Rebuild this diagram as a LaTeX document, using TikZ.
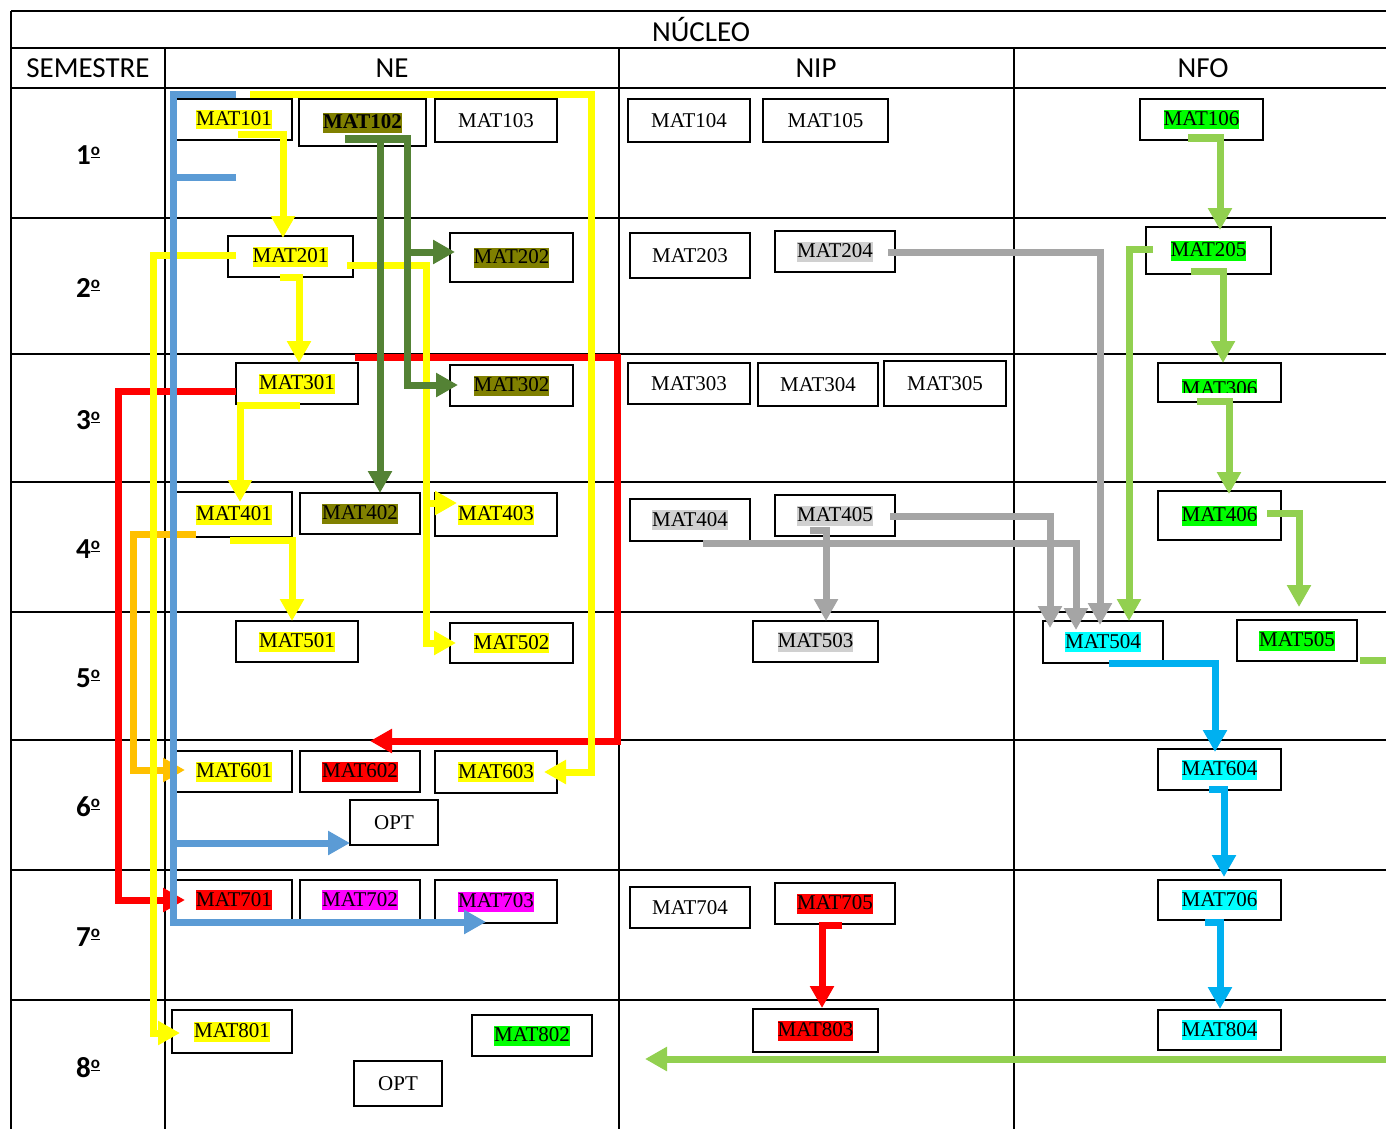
\documentclass[tikz,border=0pt]{standalone}
\usepackage{fontspec}
\setmainfont{Liberation Serif}
\newfontfamily\calib{Carlito}
\usetikzlibrary{arrows.meta}
\definecolor{cyel}{HTML}{FFFF00}
\definecolor{cblu}{HTML}{5B9BD5}
\definecolor{colv}{HTML}{548235}
\definecolor{hlolv}{HTML}{808000}
\definecolor{cred}{HTML}{FF0000}
\definecolor{corg}{HTML}{FFC000}
\definecolor{cgry}{HTML}{A5A5A5}
\definecolor{hlgry}{HTML}{D0D0D0}
\definecolor{clgr}{HTML}{92D050}
\definecolor{hlgrn}{HTML}{00FF00}
\definecolor{hlcya}{HTML}{00FFFF}
\definecolor{hlmag}{HTML}{FF00FF}
\definecolor{ccyb}{HTML}{00B0F0}
\newcommand{\hlt}[2]{{\setlength{\fboxsep}{0pt}\colorbox{#1}{\rule[-4pt]{0pt}{20pt}#2}}}
\newcommand{\ordm}{\raisebox{9pt}{\fontsize{17}{17}\selectfont\underline{o}}}
\begin{document}
\begin{tikzpicture}[x=1pt,y=-1pt,
  grid/.style={line width=2.6pt,black},
  box/.style={draw,line width=1.8pt,fill=white,inner sep=0pt,font=\fontsize{21}{25}\selectfont},
  txt/.style={inner sep=0pt,font=\fontsize{21}{25}\selectfont},
  hdr/.style={inner sep=0pt,font=\calib\fontsize{29}{33}\selectfont},
  sem/.style={inner sep=0pt,font=\calib\bfseries\fontsize{29}{33}\selectfont},
  conn/.style={line width=7pt,line join=miter},
  arr/.style={-{Triangle[width=23pt,length=22pt]}}]
\clip (0,0) rectangle (1386,1129);
\fill[white] (0,0) rectangle (1386,1129);
% grid
\draw[grid] (11,11) -- (1400,11);
\draw[grid] (11,48) -- (1400,48);
\foreach \yy in {88,218,354,482,612,740,870,1000} \draw[grid] (11,\yy) -- (1400,\yy);
\draw[grid] (11,11) -- (11,1140);
\foreach \xx in {165,619,1014} \draw[grid] (\xx,48) -- (\xx,1140);
% headers
\node[hdr] (hnuc) at (701,30) {NÚCLEO};
\node[hdr] (hsem) at (88,68) {SEMESTRE};
\node[hdr] (hne) at (392,68) {NE};
\node[hdr] (hnip) at (816,68) {NIP};
\node[hdr] (hnfo) at (1203,68) {NFO};
\node[sem] (s1) at (88,155) {1\ordm};
\node[sem] (s2) at (88,288) {2\ordm};
\node[sem] (s3) at (88,420) {3\ordm};
\node[sem] (s4) at (88,549) {4\ordm};
\node[sem] (s5) at (88,678) {5\ordm};
\node[sem] (s6) at (88,807) {6\ordm};
\node[sem] (s7) at (88,937) {7\ordm};
\node[sem] (s8) at (88,1068) {8\ordm};
% row 1
\node[box,minimum width=116pt,minimum height=41pt] (m101) at (234,119.5) {\hlt{cyel}{MAT101}};
\node[box,minimum width=127pt,minimum height=47pt] (m102) at (362.5,122.5) {\hlt{hlolv}{\bfseries MAT102}};
\node[box,minimum width=122pt,minimum height=43pt] (m103) at (496,120.5) {MAT103};
\node[box,minimum width=122pt,minimum height=43pt] (m104) at (689,120.5) {MAT104};
\node[box,minimum width=125pt,minimum height=43pt] (m105) at (825.5,120.5) {MAT105};
\node[box,minimum width=123pt,minimum height=41pt] (m106) at (1201.5,119.5) {\hlt{hlgrn}{MAT106}};
% row 2
\node[box,minimum width=125pt,minimum height=41pt] (m201) at (290.5,256.5) {\hlt{cyel}{MAT201}};
\node[box,minimum width=123pt,minimum height=49pt] (m202) at (511.5,257.5) {\hlt{hlolv}{MAT202}};
\node[box,minimum width=120pt,minimum height=45pt] (m203) at (690,255.5) {MAT203};
\node[box,minimum width=120pt,minimum height=41pt] (m204) at (835,251.5) {\hlt{hlgry}{MAT204}};
\node[box,minimum width=125pt,minimum height=47pt] (m205) at (1208.5,250.5) {\hlt{hlgrn}{MAT205}};
% row 3
\node[box,minimum width=122pt,minimum height=41pt] (m301) at (297,383.5) {\hlt{cyel}{MAT301}};
\node[box,minimum width=123pt,minimum height=41pt] (m302) at (511.5,385.5) {\hlt{hlolv}{MAT302}};
\node[box,minimum width=122pt,minimum height=41pt] (m303) at (689,383.5) {MAT303};
\node[box,minimum width=120pt,minimum height=43pt] (m304) at (818,384.5) {MAT304};
\node[box,minimum width=122pt,minimum height=45pt] (m305) at (945,383.5) {MAT305};
\node[box,minimum width=123pt,minimum height=39pt] (m306) at (1219.5,382.5) {};
\begin{scope}
\clip (1150,360) rectangle (1290,392);
\node[txt] (t306) at (1219.5,389) {\hlt{hlgrn}{MAT306}};
\end{scope}
% row 4
\node[box,minimum width=116pt,minimum height=45pt] (m401) at (234,514.5) {\hlt{cyel}{MAT401}};
\node[box,minimum width=120pt,minimum height=41pt] (m402) at (360,513.5) {\hlt{hlolv}{MAT402}};
\node[box,minimum width=122pt,minimum height=43pt] (m403) at (496,514.5) {\hlt{cyel}{MAT403}};
\node[box,minimum width=120pt,minimum height=42pt] (m404) at (690,520) {\hlt{hlgry}{MAT404}};
\node[box,minimum width=120pt,minimum height=41pt] (m405) at (835,515.5) {\hlt{hlgry}{MAT405}};
\node[box,minimum width=123pt,minimum height=49pt] (m406) at (1219.5,515.5) {\hlt{hlgrn}{MAT406}};
% row 5
\node[box,minimum width=122pt,minimum height=41pt] (m501) at (297,641.5) {\hlt{cyel}{MAT501}};
\node[box,minimum width=123pt,minimum height=40pt] (m502) at (511.5,643) {\hlt{cyel}{MAT502}};
\node[box,minimum width=125pt,minimum height=41pt] (m503) at (815.5,641.5) {\hlt{hlgry}{MAT503}};
\node[box,minimum width=120pt,minimum height=42pt] (m504) at (1103,642) {\hlt{hlcya}{MAT504}};
\node[box,minimum width=120pt,minimum height=41pt] (m505) at (1297,640.5) {\hlt{hlgrn}{MAT505}};
% row 6
\node[box,minimum width=116pt,minimum height=41pt] (m601) at (234,771.5) {\hlt{cyel}{MAT601}};
\node[box,minimum width=120pt,minimum height=41pt] (m602) at (360,771.5) {\hlt{cred}{MAT602}};
\node[box,minimum width=122pt,minimum height=42pt] (m603) at (496,772) {\hlt{cyel}{MAT603}};
\node[box,minimum width=88pt,minimum height=45pt] (opt6) at (394,822.5) {OPT};
\node[box,minimum width=123pt,minimum height=41pt] (m604) at (1219.5,769.5) {\hlt{hlcya}{MAT604}};
% row 7
\node[box,minimum width=116pt,minimum height=40pt] (m701) at (234,900) {\hlt{cred}{MAT701}};
\node[box,minimum width=120pt,minimum height=40pt] (m702) at (360,900) {\hlt{hlmag}{MAT702}};
\node[box,minimum width=122pt,minimum height=43pt] (m703) at (496,901.5) {\hlt{hlmag}{MAT703}};
\node[box,minimum width=120pt,minimum height=41pt] (m704) at (690,907.5) {MAT704};
\node[box,minimum width=120pt,minimum height=41pt] (m705) at (835,903.5) {\hlt{cred}{MAT705}};
\node[box,minimum width=123pt,minimum height=40pt] (m706) at (1219.5,900) {\hlt{hlcya}{MAT706}};
% row 8
\node[box,minimum width=120pt,minimum height=43pt] (m801) at (232,1031.5) {\hlt{cyel}{MAT801}};
\node[box,minimum width=120pt,minimum height=41pt] (m802) at (532,1035.5) {\hlt{hlgrn}{MAT802}};
\node[box,minimum width=88pt,minimum height=45pt] (opt8) at (398,1083.5) {OPT};
\node[box,minimum width=125pt,minimum height=43pt] (m803) at (815.5,1030.5) {\hlt{cred}{MAT803}};
\node[box,minimum width=123pt,minimum height=40pt] (m804) at (1219.5,1030) {\hlt{hlcya}{MAT804}};
% red
\draw[conn,cred,arr] (236,391) -- (118,391) -- (118,900) -- (185,900);
\draw[conn,cred,arr] (355,357) -- (617,357) -- (617,741) -- (370,741);
\draw[conn,cred,arr] (842,925) -- (822,925) -- (822,1008);
% orange
\draw[conn,corg,arr] (196,534) -- (133,534) -- (133,770) -- (185,770);
% yellow
\draw[conn,cyel,arr] (238,135) -- (283,135) -- (283,238);
\draw[conn,cyel,arr] (250,95) -- (591,95) -- (591,772) -- (544,772);
\draw[conn,cyel,arr] (236,255) -- (153,255) -- (153,1033) -- (180,1033);
\draw[conn,cyel,arr] (280,277) -- (299,277) -- (299,363);
\draw[conn,cyel,arr] (347,265) -- (426,265) -- (426,643) -- (456,643);
\draw[conn,cyel,arr] (426,503) -- (457,503);
\draw[conn,cyel,arr] (300,405) -- (240,405) -- (240,502);
\draw[conn,cyel,arr] (230,540) -- (292,540) -- (292,621);
% olive
\draw[conn,colv,arr] (345,139) -- (407,139) -- (407,385) -- (458,385);
\draw[conn,colv,arr] (407,252) -- (455,252);
\draw[conn,colv,arr] (380,139) -- (380,493);
% gray
\draw[conn,cgry,arr] (888,252) -- (1100,252) -- (1100,625);
\draw[conn,cgry,arr] (890,516) -- (1050,516) -- (1050,628);
\draw[conn,cgry,arr] (703,543) -- (1076,543) -- (1076,630);
\draw[conn,cgry,arr] (810,530) -- (826,530) -- (826,621);
% light green
\draw[conn,clgr,arr] (1188,138) -- (1220,138) -- (1220,230);
\draw[conn,clgr,arr] (1153,249) -- (1129,249) -- (1129,621);
\draw[conn,clgr,arr] (1191,271) -- (1223,271) -- (1223,363);
\draw[conn,clgr,arr] (1197,401) -- (1229,401) -- (1229,494);
\draw[conn,clgr,arr] (1267,513) -- (1299,513) -- (1299,607);
\draw[conn,clgr,arr] (1360,660) -- (1400,660) -- (1400,1059) -- (645,1059);
% cyan
\draw[conn,ccyb,arr] (1109,663) -- (1215,663) -- (1215,752);
\draw[conn,ccyb,arr] (1209,789) -- (1224,789) -- (1224,877);
\draw[conn,ccyb,arr] (1205,922) -- (1220,922) -- (1220,1009);
% blue
\draw[conn,cblu,arr] (236,95) -- (173,95) -- (173,922) -- (486,922);
\draw[conn,cblu] (236,177) -- (173,177);
\draw[conn,cblu,arr] (173,843) -- (350,843);
\end{tikzpicture}
\end{document}
